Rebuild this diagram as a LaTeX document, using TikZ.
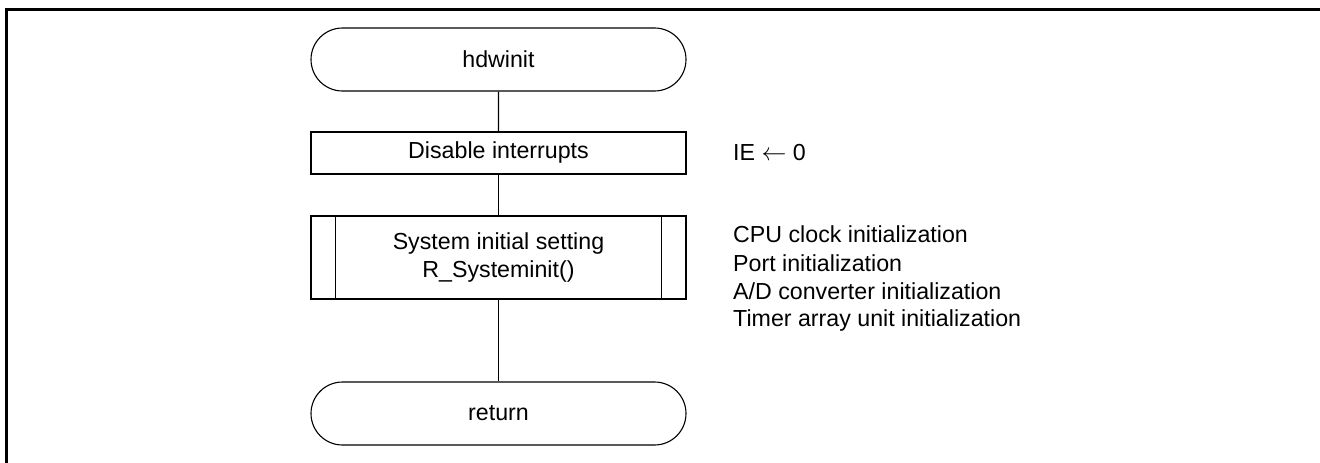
\documentclass[tikz,border=0pt]{standalone}
\usepackage{fontspec}
\setmainfont{Liberation Sans}
\usetikzlibrary{shapes.misc}
\begin{document}
\begin{tikzpicture}[x=1pt,y=-1pt,
  every node/.style={font=\fontsize{23.2}{28}\selectfont},
  flowline/.style={line width=1.1pt},
  terminal/.style={rounded rectangle, draw, line width=1.1pt, minimum width=375pt,
    minimum height=63pt, inner sep=0pt},
  process/.style={rectangle, draw, line width=1.1pt, minimum width=375pt,
    minimum height=42pt, inner sep=0pt},
  subproc/.style={rectangle, draw, line width=1.1pt, minimum width=375pt,
    minimum height=83pt, inner sep=0pt, align=center},
  note/.style={anchor=base west, inner sep=0pt}]
\useasboundingbox (0,0) rectangle (1320,463);
% page frame (top and left rules)
\draw[line width=3pt] (5,9.5) -- (1320,9.5);
\draw[line width=3pt] (6.3,8) -- (6.3,463);
% flowchart
\node[terminal] (start) at (498.5,59.5) {hdwinit};
\node[process] (di) at (498.5,153) {Disable interrupts};
\node[subproc] (sys) at (498.5,257.5) {System initial setting\\R\_Systeminit()};
\node[terminal] (ret) at (498.5,413.5) {return};
\draw[flowline] ([xshift=25pt]sys.north west) -- ([xshift=25pt]sys.south west);
\draw[flowline] ([xshift=-25pt]sys.north east) -- ([xshift=-25pt]sys.south east);
\draw[flowline] (start) -- (di);
\draw[flowline] (di) -- (sys);
\draw[flowline] (sys) -- (ret);
% notes
\node[note] (n0) at (733,160) {IE $\leftarrow$ 0};
\node[note] (n1) at (733,242.7) {CPU clock initialization};
\node[note] (n2) at (733,271) {Port initialization};
\node[note] (n3) at (733,299.3) {A/D converter initialization};
\node[note] (n4) at (733,326.7) {Timer array unit initialization};
\end{tikzpicture}
\end{document}
